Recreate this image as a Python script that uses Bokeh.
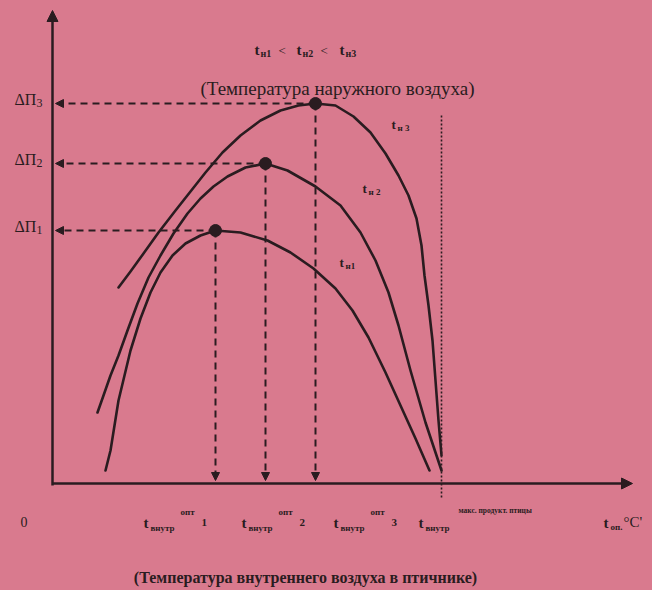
from bokeh.plotting import figure
from bokeh.models import Range1d, Arrow, NormalHead
from bokeh.core.properties import value
from bokeh.embed import file_html
from bokeh.resources import INLINE

# ---- data (arbitrary units: x = inside temperature, y = productivity gain) ----
tn1_x = [53, 58, 66, 78, 88, 98, 108, 120, 133, 148, 163, 188, 215, 238, 261, 283, 300, 316, 333, 348, 363, 377]
tn1_y = [13, 33, 83, 133, 165, 191, 211, 228, 240, 248, 253, 251, 243, 231, 215, 195, 173, 146, 111, 78, 45, 13]

tn2_x = [45, 51, 58, 66, 75, 85, 96, 108, 121, 135, 148, 161, 175, 193, 213, 235, 263, 288, 308, 323, 336, 346, 358, 373, 389]
tn2_y = [71, 88, 108, 128, 153, 180, 206, 228, 250, 270, 285, 297, 307, 316, 320, 313, 297, 278, 251, 223, 191, 158, 113, 61, 13]

tn3_x = [66, 78, 91, 106, 123, 138, 153, 170, 188, 208, 228, 246, 263, 283, 301, 318, 333, 346, 356, 364, 369, 372, 376, 380, 383, 386, 389]
tn3_y = [196, 212, 230, 251, 273, 292, 311, 331, 348, 363, 373, 378, 380, 378, 367, 351, 330, 308, 288, 265, 238, 208, 178, 143, 103, 63, 28]

opt_x = [163, 213, 263]      # t_внутр^опт 1,2,3
opt_y = [253, 320, 380]      # ΔП1, ΔП2, ΔП3
max_prod_x = 389             # t_внутр^макс. продукт. птицы

BG = "#d97a8e"
INK = "#2a1c20"
SERIF = "Liberation Serif"

p = figure(width=652, height=590, x_range=Range1d(-52, 600), y_range=Range1d(-107, 483),
           tools="", toolbar_location=None, output_backend="svg", min_border=0,
           x_axis_location=None, y_axis_location=None)
p.grid.visible = False
p.background_fill_color = BG
p.border_fill_color = BG
p.outline_line_color = None

# axes with arrows
p.add_layout(Arrow(end=NormalHead(size=11, fill_color=INK, line_color=INK),
                   x_start=0, y_start=-2, x_end=0, y_end=473, line_color=INK, line_width=2.5))
p.add_layout(Arrow(end=NormalHead(size=11, fill_color=INK, line_color=INK),
                   x_start=0, y_start=0, x_end=580, y_end=0, line_color=INK, line_width=2.5))

# curves
for xs, ys in [(tn1_x, tn1_y), (tn2_x, tn2_y), (tn3_x, tn3_y)]:
    p.line(xs, ys, line_color=INK, line_width=2.6, line_join="round", line_cap="round")

# dashed guides to optimum
for ox, oy in zip(opt_x, opt_y):
    p.add_layout(Arrow(end=NormalHead(size=8, fill_color=INK, line_color=INK),
                       x_start=ox, y_start=oy, x_end=3, y_end=oy,
                       line_color=INK, line_width=2, line_dash="7 5"))
    p.add_layout(Arrow(end=NormalHead(size=8, fill_color=INK, line_color=INK),
                       x_start=ox, y_start=oy, x_end=ox, y_end=3,
                       line_color=INK, line_width=2, line_dash="7 5"))
p.scatter(opt_x, opt_y, size=12, fill_color=INK, line_color=INK)

# dotted vertical line at max productivity
p.line([max_prod_x, max_prod_x], [-14, 370], line_color=INK, line_width=1.6, line_dash="2 2")


def txt(x, y, s, size, bold=False, align="left"):
    p.text([x], [y], text=[s], text_font=value(SERIF), text_font_size=f"{size}px",
           text_font_style="bold" if bold else "normal", text_color=INK,
           text_align=align, text_baseline="middle")


# ΔП labels
for oy, d in zip(opt_y, ["1", "2", "3"]):
    txt(-38, oy + 4, "ΔП", 16)
    txt(-16, oy + 1, d, 12)

# top relation
for tx, d in zip([202, 244, 287], ["1", "2", "3"]):
    txt(tx, 434, "t", 15, True)
    txt(tx + 6, 430, "н" + d, 10, True)
txt(226, 433, "<", 13)
txt(268, 433, "<", 13)
txt(285, 395, "(Температура наружного воздуха)", 19, align="center")

# curve labels
for (cx, cy), d in zip([(287, 221), (310, 295), (339, 359)], ["1", "2", "3"]):
    txt(cx, cy, "t", 13, True)
    txt(cx + 6, cy - 3, "н" + ("" if d == "1" else " ") + d, 9, True)

# bottom labels
txt(-32, -38, "0", 14)
for tx, d in zip([91, 189, 281], ["1", "2", "3"]):
    txt(tx, -39, "t", 15, True)
    txt(tx + 7, -44, "внутр", 9, True)
    txt(tx + 37, -28, "опт", 9, True)
    txt(tx + 58, -39, d, 11, True)
txt(366, -39, "t", 15, True)
txt(373, -44, "внутр", 9, True)
txt(406, -27, "макс. продукт. птицы", 7.5, True)
txt(551, -39, "t", 15, True)
txt(558, -43, "оп.", 9, True)
txt(571, -38, "°C'", 15)

txt(253, -94, "(Температура внутреннего воздуха в птичнике)", 16, True, align="center")

html = file_html(p, INLINE)
html = html.replace("</head>", "<style>html,body{background:%s;margin:0;}</style></head>" % BG, 1)
open("out.html", "w").write(html)
